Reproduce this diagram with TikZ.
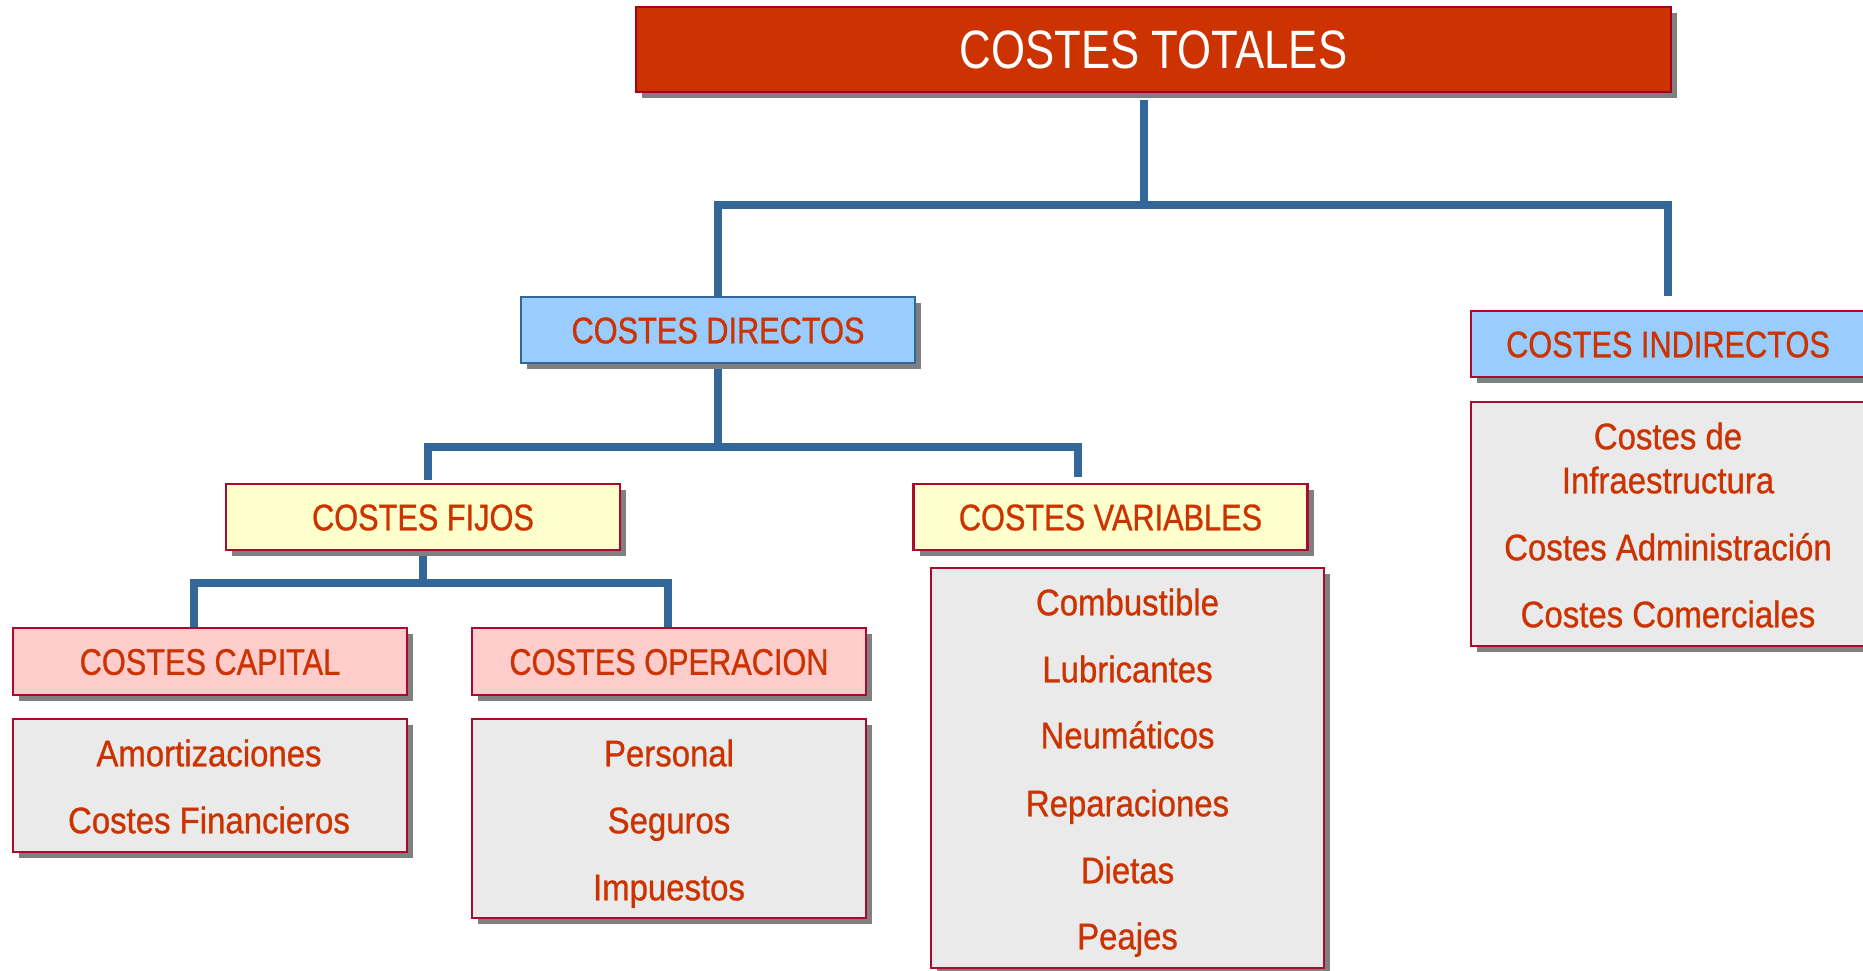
\documentclass[tikz,border=0pt]{standalone}
\usepackage{fontspec}
\usetikzlibrary{shadows,backgrounds}
\newfontfamily\hdfont[FakeStretch=0.83,FakeBold=0.8]{Liberation Sans}
\newfontfamily\bdfont[FakeStretch=0.89,FakeBold=0.8]{Liberation Sans}
\newfontfamily\tpfont[FakeStretch=0.81]{Liberation Sans}
\definecolor{conncol}{RGB}{51,102,153}
\definecolor{txtred}{RGB}{204,51,0}
\definecolor{topfill}{RGB}{204,51,0}
\definecolor{topbord}{RGB}{165,0,33}
\definecolor{bordred}{RGB}{170,10,45}
\definecolor{bordblue}{RGB}{51,102,153}
\definecolor{bluefill}{RGB}{153,204,255}
\definecolor{yelfill}{RGB}{255,255,204}
\definecolor{pinkfill}{RGB}{255,204,204}
\definecolor{greyfill}{RGB}{234,234,234}
\definecolor{shadowcol}{RGB}{128,128,128}
\tikzset{
  box/.style={draw=bordred, line width=2.2pt, inner sep=0pt, minimum width=394pt,
    drop shadow={shadow xshift=6pt, shadow yshift=-6pt, fill=shadowcol, opacity=1}},
  hdbox/.style={box, minimum height=66pt, text=txtred,
    font={\hdfont\fontsize{37pt}{40pt}\selectfont}, text height=26.5pt, text depth=0pt},
  greybox/.style={box, fill=greyfill},
  item/.style={inner sep=0pt, text=txtred, font={\bdfont\fontsize{37pt}{40pt}\selectfont},
    text height=26.5pt, text depth=0pt},
  conn/.style={draw=conncol, line width=8pt, line join=miter}
}
\begin{document}
\begin{tikzpicture}[x=1pt,y=-1pt]
\useasboundingbox (0,0) rectangle (1863,970);
\clip (0,0) rectangle (1863,970);

% top
\node[box, fill=topfill, draw=topbord, minimum width=1035pt, minimum height=85pt,
  text=white, font={\tpfont\fontsize{54pt}{58pt}\selectfont}, text height=38.7pt, text depth=0pt]
  (tot) at (1153.5,49.5) {COSTES TOTALES};

% level 2
\node[hdbox, fill=bluefill, draw=bordblue] (dir) at (718,330) {COSTES DIRECTOS};
\node[hdbox, fill=bluefill] (ind) at (1668,344) {COSTES INDIRECTOS};
\node[greybox, minimum height=244pt] (infbox) at (1668,524) {};
\node[item] (i1) at (1668,436) {Costes de};
\node[item] (i2) at (1668,480) {Infraestructura};
\node[item] (i3) at (1668,547) {Costes Administración};
\node[item] (i4) at (1668,614) {Costes Comerciales};

% level 3
\node[hdbox, fill=yelfill] (fij) at (423,517) {COSTES FIJOS};
\node[hdbox, fill=yelfill] (var) at (1110.5,517) {COSTES VARIABLES};
\node[greybox, minimum width=393pt, minimum height=400pt] (combox) at (1127.5,768) {};
\node[item] (v1) at (1127.5,602) {Combustible};
\node[item] (v2) at (1127.5,669) {Lubricantes};
\node[item] (v3) at (1127.5,735) {Neumáticos};
\node[item] (v4) at (1127.5,803) {Reparaciones};
\node[item] (v5) at (1127.5,870) {Dietas};
\node[item] (v6) at (1127.5,936) {Peajes};

% level 4
\node[hdbox, fill=pinkfill, minimum height=67pt] (cap) at (210,661.5) {COSTES CAPITAL};
\node[hdbox, fill=pinkfill, minimum height=67pt] (ope) at (669,661.5) {COSTES OPERACION};
\node[greybox, minimum height=133pt] (amobox) at (210,785.5) {};
\node[item] (a1) at (209,753) {Amortizaciones};
\node[item] (a2) at (209,820) {Costes Financieros};
\node[greybox, minimum height=199pt] (perbox) at (669,818.5) {};
\node[item] (p1) at (669,753) {Personal};
\node[item] (p2) at (669,820) {Seguros};
\node[item] (p3) at (669,887) {Impuestos};

% connectors
\coordinate (j1) at (1144,205);
\coordinate (indtop) at (1668,296);
\coordinate (j2) at (718,447);
\coordinate (fijtop) at (428,480);
\coordinate (vartop) at (1078,477);
\coordinate (j3) at (423,583);
\begin{scope}[on background layer]
  \draw[conn] ([yshift=-7pt]tot.south -| j1) -- (j1);
  \draw[conn] (dir.north) |- (j1) -| (indtop);
  \draw[conn] (dir.south) -- (j2);
  \draw[conn] (fijtop) |- (j2) -| (vartop);
  \draw[conn] (fij.south) -- (j3);
  \draw[conn] ([xshift=-16pt]cap.north) |- (j3) -| ([xshift=-1pt]ope.north);
\end{scope}
\end{tikzpicture}
\end{document}
